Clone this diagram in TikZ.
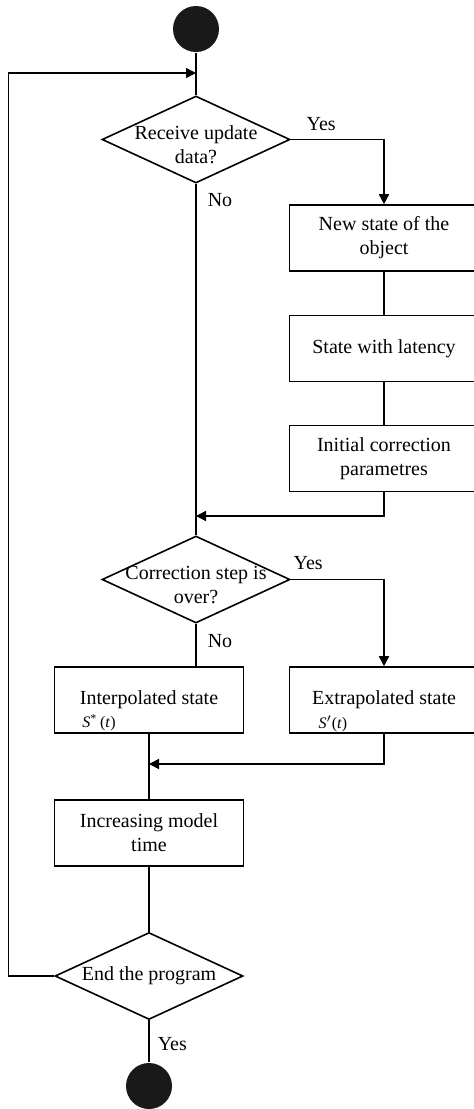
\documentclass[tikz,border=0pt]{standalone}
\usepackage{fontspec}
\setmainfont{Liberation Serif}
\usetikzlibrary{positioning, shapes.geometric, arrows.meta}
\newcommand{\toplines}[1]{\begin{tabular}[t]{@{}c@{}}#1\end{tabular}}

\begin{document}
\begin{tikzpicture}[x=0.5pt, y=-0.5pt, line width=0.8pt,
    >={Triangle[length=5pt, width=5pt]},
    terminal/.style={circle, fill=black!90, minimum size=23pt, inner sep=0pt},
    decision/.style={draw, diamond, shape aspect=2.15, minimum width=94pt,
      minimum height=43.5pt, inner sep=0pt, align=center},
    twoline/.style={text height=0pt, text depth=0pt},
    process/.style={draw, rectangle, minimum width=94.5pt, minimum height=33pt,
      inner sep=2pt, align=center},
    func/.style={font=\footnotesize, inner sep=0pt, anchor=west},
    lbl/.style={inner sep=1pt}]
      \useasboundingbox (0,0) rectangle (473,1109);

      % upper part
      \node[terminal] (start) at (196,29) {};
      \node[decision, twoline] (recv) at (196,139.5) {\toplines{Receive update\\data?}};
      \node[process] (new) at (384,238) {New state of the\\object};
      \node[process] (lat) at (384,348.5) {State with latency};
      \node[process] (init) at (384,458.5) {Initial correction\\parametres};
      \coordinate (join1) at (196,516);
      \coordinate (loop) at (196,73);
      \coordinate (edge) at (8.5,73);

      % correction
      \node[decision, twoline] (corr) at (196,579.5) {\toplines{Correction step is\\over?}};
      \node[process] (inter) at (149,700) {Interpolated state};
      \node[process] (extra) at (384,700) {Extrapolated state};
      \node[func] (sint) at ([shift={(28,-11)}]inter.south west) {\textit{S}\textsuperscript{*}\,(\textit{t})};
      \node[func] (sext) at ([shift={(29,-10)}]extra.south west) {\textit{S}$'$(\textit{t})};
      \coordinate (join2) at (149,764);

      % lower part
      \node[process] (time) at (149,833) {Increasing model\\time};
      \node[decision] (end) at (149,976) {End the program};
      \node[terminal] (stop) at (149,1086) {};

      \node[lbl, above right=3.25pt and 6.5pt of recv.east] (yes1) {Yes};
      \node[lbl, below right=3.5pt and 4.5pt of recv.south] (no1) {No};
      \node[lbl, above right=3.75pt and 0pt of corr.east] (yes2) {Yes};
      \node[lbl, below right=4pt and 4.5pt of corr.south] (no2) {No};
      \node[lbl, below right=7pt and 3pt of end.south] (yes3) {Yes};

      \draw (start) -- (recv);
      \draw[->] (recv.east) -| (new.north);
      \draw (new) -- (lat);
      \draw (lat) -- (init);
      \draw[->] (init.south) |- (join1);
      \draw (recv.south) -- (corr.north);
      \draw[->] (corr.east) -| (extra.north);
      \draw (corr.south) -- (corr.south |- inter.north);
      \draw (inter) -- (time);
      \draw[->] (extra.south) |- (join2);
      \draw (time) -- (end);
      \draw (end) -- (stop);
      \draw[->] (end.west) -| (edge) -- (loop);
\end{tikzpicture}
\end{document}
